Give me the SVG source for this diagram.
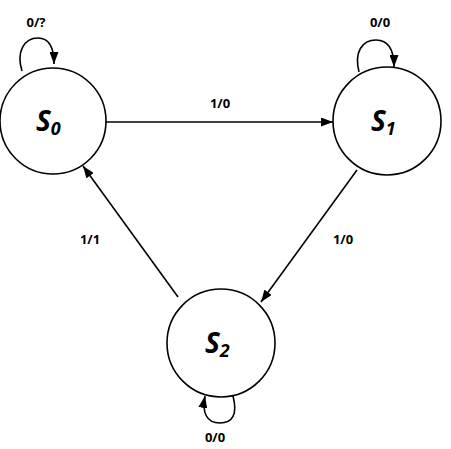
<svg xmlns="http://www.w3.org/2000/svg" width="451" height="449" viewBox="0 0 451 449">
<defs>
<marker id="ah" markerWidth="12" markerHeight="9" refX="12" refY="4.5" orient="auto" markerUnits="userSpaceOnUse">
<path d="M0,0 L12,4.5 L0,9 Z" fill="#000"/>
</marker>
<style>
.node{fill:#fff;stroke:#000;stroke-width:1.6}
.edge{fill:none;stroke:#000;stroke-width:1.6;marker-end:url(#ah)}
.lbl{font-family:"Open Sans","Liberation Sans",sans-serif;font-weight:bold;font-size:13px;fill:#000;text-anchor:middle}
.st{font-family:"Open Sans","Liberation Sans",sans-serif;font-weight:bold;font-style:italic;font-size:28px;fill:#000}
.sub{font-size:18px}
</style>
</defs>
<rect width="451" height="449" fill="#fff"/>
<g id="connectors">
<path class="edge" d="M106,122 L333,122"/>
<path class="edge" d="M357,170 L261,302"/>
<path class="edge" d="M178,297 L83,166"/>
<path class="edge" d="M22,71 C16,52 24,38 38,38 C50,38 54,48 54,64"/>
<path class="edge" d="M359,72 C354,52 362,40 376,40 C388,40 394,50 394,67"/>
<path class="edge" d="M233,396 C238,415 232,423 220,423 C206,423 202,412 205,396"/>
</g>
<g id="S0">
<circle class="node" cx="53" cy="121" r="53"/>
<text class="st" x="36" y="131">S<tspan class="sub" dy="4">0</tspan></text>
</g>
<g id="S1">
<circle class="node" cx="387" cy="121" r="54"/>
<text class="st" x="371" y="131">S<tspan class="sub" dy="4">1</tspan></text>
</g>
<g id="S2">
<circle class="node" cx="221" cy="343" r="54"/>
<text class="st" x="205" y="353">S<tspan class="sub" dy="4">2</tspan></text>
</g>
<g id="labels">
<text class="lbl" x="36" y="27">0/?</text>
<text class="lbl" x="380" y="27">0/0</text>
<text class="lbl" x="220" y="108">1/0</text>
<text class="lbl" x="343" y="244">1/0</text>
<text class="lbl" x="90" y="244">1/1</text>
<text class="lbl" x="215" y="442">0/0</text>
</g>
</svg>
